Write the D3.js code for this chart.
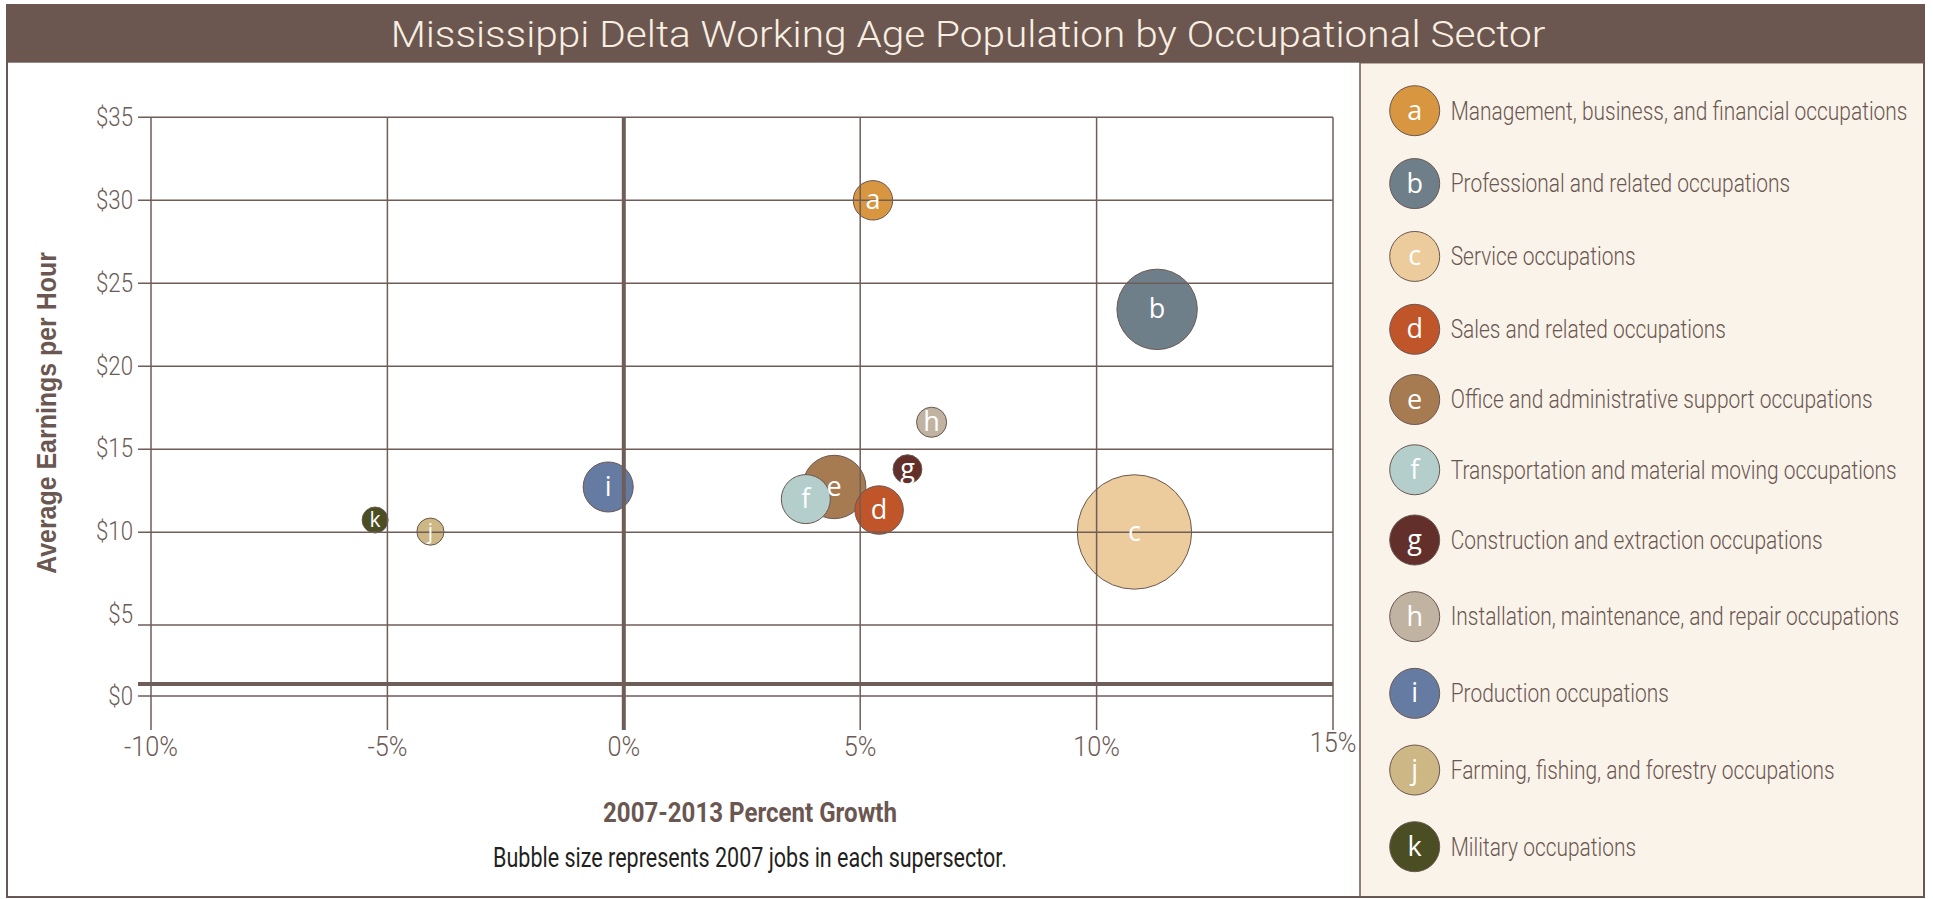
<!doctype html>
<html lang="en">
<head>
	<meta charset="utf-8">
	<title>Mississippi Delta Working Age Population by Occupational Sector</title>
	<style>
html, body {
	margin: 0;
	padding: 0;
	background: #fff;
	overflow: hidden;
}
svg {
	display: block;
}
.cond {
	font-family: Roboto, 'Liberation Sans', sans-serif;
	font-weight: 300;
}
	</style>
</head>
<body>
	<div id="chart"></div>

	<script src="https://cdnjs.cloudflare.com/ajax/libs/d3/7.8.5/d3.min.js"></script>
	<script>
/* DATA (jobs) */

var letters = ['a', 'b', 'c', 'd', 'e', 'f', 'g', 'h', 'i', 'j', 'k'];

var occupations = [
	'Management, business, and financial occupations',
	'Professional and related occupations',
	'Service occupations',
	'Sales and related occupations',
	'Office and administrative support occupations',
	'Transportation and material moving occupations',
	'Construction and extraction occupations',
	'Installation, maintenance, and repair occupations',
	'Production occupations',
	'Farming, fishing, and forestry occupations',
	'Military occupations'
];

// 2007-2013 percent growth
var growth = [5.27, 11.28, 10.80, 5.40, 4.45, 3.85, 6.00, 6.51, -0.33, -4.09, -5.26];

// average earnings per hour ($)
var earnings = [30.0, 23.43, 10.02, 11.34, 12.73, 12.0, 13.8, 16.63, 12.73, 10.04, 10.74];

// 2007 jobs (bubble size)
var jobs2007 = [10800, 44900, 90900, 16300, 27900, 16700, 5800, 6300, 17400, 5100, 4700];

var colors = ['#d7963f', '#6e7f89', '#eccb9c', '#c0552a', '#a67b52', '#b3cecb',
	'#622f2b', '#c1b3a2', '#657ba1', '#cdb784', '#4b4d23'];

var xTicks = [-10, -5, 0, 5, 10, 15];
var yTicks = [0, 5, 10, 15, 20, 25, 30, 35];

(function (d3) {

	'use strict';

	/* CONST */

	var W = 1933, H = 899;
	var BROWN = '#6b5751';
	var FRAME = { x: 7, y: 5, w: 1917, h: 892 };
	var TITLE_H = 57.7;
	var LEGEND_X = 1360;
	var GRID_LEFT = 138;
	var GRID_BOTTOM = 730;
	var BASELINE_VALUE = 0.85; // the heavy horizontal rule sits a bit above $0

	var svg = d3.select('#chart').append('svg')
		.attr('width', W)
		.attr('height', H);

	/* SCALES */

	var x = d3.scaleLinear().domain([-10, 15]).range([151, 1333]);
	// the gridlines are not evenly spaced below $10 in the original
	var y = d3.scaleLinear().domain([0, 5, 10, 35]).range([696, 625, 532.3, 117.3]);
	// ... while the labels are
	var yLabel = d3.scaleLinear().domain([0, 35]).range([696, 117]);
	var r = d3.scaleSqrt().domain([0, 100000]).range([0, 60]);
	// legend rows are hand spaced, a bit uneven
	var legendY = d3.scaleLinear().domain([0, 3, 6, 10]).range([110.7, 329.3, 540, 846.7]);

	var data = letters.map(function (l, i) {
		return {
			index: i,
			letter: l,
			name: occupations[i],
			growth: growth[i],
			earnings: earnings[i],
			jobs: jobs2007[i],
			color: colors[i]
		};
	});

	/* UTILS */

	// no condensed face is installed, so squeeze a normal one horizontally
	var squeeze = function (text, target) {
		return target / text.node().getComputedTextLength();
	};
	var place = function (sel, px, py, s) {
		sel.attr('transform', function (d, i) {
			var X = typeof px === 'function' ? px(d, i) : px;
			var Y = typeof py === 'function' ? py(d, i) : py;
			return 'translate(' + X + ',' + Y + ') scale(' + s + ',1)';
		});
	};

	/* FRAME + TITLE */

	svg.append('rect')
		.attr('x', LEGEND_X).attr('y', FRAME.y + TITLE_H)
		.attr('width', FRAME.x + FRAME.w - LEGEND_X)
		.attr('height', FRAME.h - TITLE_H)
		.attr('fill', '#faf3ea')
		.attr('stroke', BROWN)
		.attr('stroke-width', 1.5);

	svg.append('rect')
		.attr('x', FRAME.x).attr('y', FRAME.y)
		.attr('width', FRAME.w).attr('height', FRAME.h)
		.attr('fill', 'none')
		.attr('stroke', BROWN)
		.attr('stroke-width', 2);

	svg.append('rect')
		.attr('x', FRAME.x).attr('y', FRAME.y)
		.attr('width', FRAME.w).attr('height', TITLE_H)
		.attr('fill', '#6b5750');

	var title = svg.append('text')
		.attr('class', 'cond')
		.attr('text-anchor', 'middle')
		.attr('fill', '#f8efe2')
		.style('font-size', '37px')
		.text('Mississippi Delta Working Age Population by Occupational Sector');
	place(title, 968, 46.7, squeeze(title, 1155));

	/* BUBBLES (under the grid, as in the original) */

	var sorted = data.slice().sort(function (a, b) { return b.jobs - a.jobs; });

	svg.append('g').selectAll('circle')
		.data(sorted).enter()
		.append('circle')
		.attr('cx', function (d) { return x(d.growth); })
		.attr('cy', function (d) { return y(d.earnings); })
		.attr('r', function (d) { return r(d.jobs); })
		.attr('fill', function (d) { return d.color; })
		.attr('stroke', BROWN)
		.attr('stroke-width', 1);

	/* GRID */

	var grid = svg.append('g')
		.attr('stroke', '#6f5d58')
		.attr('stroke-width', 1.5);

	grid.selectAll('line.h')
		.data(yTicks).enter()
		.append('line')
		.attr('x1', GRID_LEFT).attr('x2', x(15))
		.attr('y1', function (d) { return y(d); })
		.attr('y2', function (d) { return y(d); });

	grid.selectAll('line.v')
		.data(xTicks).enter()
		.append('line')
		.attr('y1', y(35)).attr('y2', GRID_BOTTOM)
		.attr('x1', function (d) { return x(d); })
		.attr('x2', function (d) { return x(d); })
		.attr('stroke-width', function (d) { return d === 0 ? 4 : 1.5; });

	grid.append('line')
		.attr('x1', GRID_LEFT).attr('x2', x(15))
		.attr('y1', y(BASELINE_VALUE)).attr('y2', y(BASELINE_VALUE))
		.attr('stroke-width', 4);

	/* BUBBLE LETTERS */

	var letterSize = function (d) { return r(d.jobs) < 14 ? 21 : 27; };

	svg.append('g').selectAll('text')
		.data(sorted).enter()
		.append('text')
		.attr('x', function (d) { return x(d.growth); })
		.attr('y', function (d) { return y(d.earnings) + letterSize(d) * 0.33; })
		.attr('text-anchor', 'middle')
		.attr('fill', '#fff')
		.style('font-family', "'Open Sans', sans-serif")
		.style('font-size', function (d) { return letterSize(d) + 'px'; })
		.text(function (d) { return d.letter; });

	/* AXES */

	var yLabels = svg.append('g').selectAll('text')
		.data(yTicks).enter()
		.append('text')
		.attr('class', 'cond')
		.attr('fill', '#6b5a55')
		.attr('dy', '0.36em')
		.attr('text-anchor', 'end')
		.style('font-size', '26px')
		.text(function (d) { return '$' + d; });
	place(yLabels, 133, function (d) { return yLabel(d); }, squeeze(d3.select(yLabels.nodes()[7]), 37));

	var xLabels = svg.append('g').selectAll('text')
		.data(xTicks).enter()
		.append('text')
		.attr('class', 'cond')
		.attr('fill', '#6b5a55')
		.attr('text-anchor', 'middle')
		.style('font-size', '27px')
		.text(function (d) { return d + '%'; });
	place(xLabels, function (d) { return x(d); }, function (d) { return d === 15 ? 752 : 756; },
		squeeze(d3.select(xLabels.nodes()[0]), 54));

	var xTitle = svg.append('text')
		.attr('text-anchor', 'middle')
		.attr('fill', BROWN)
		.style('font-family', "Roboto, 'Liberation Sans', sans-serif")
		.style('font-weight', 'bold')
		.style('font-size', '28px')
		.text('2007-2013 Percent Growth');
	place(xTitle, 750, 821.7, squeeze(xTitle, 294));

	var note = svg.append('text')
		.attr('text-anchor', 'middle')
		.attr('fill', '#231f20')
		.style('font-family', "Roboto, 'Liberation Sans', sans-serif")
		.style('font-size', '27px')
		.text('Bubble size represents 2007 jobs in each supersector.');
	place(note, 750, 866.7, squeeze(note, 514));

	var yTitle = svg.append('text')
		.attr('text-anchor', 'middle')
		.attr('fill', BROWN)
		.style('font-family', "'Liberation Sans', Arial, sans-serif")
		.style('font-weight', 'bold')
		.style('font-size', '27px')
		.text('Average Earnings per Hour');
	yTitle.attr('transform', 'translate(56,413) rotate(-90) scale(' + squeeze(yTitle, 322) + ',1)');

	/* LEGEND */

	var legend = svg.append('g').selectAll('g')
		.data(data).enter()
		.append('g')
		.attr('transform', function (d) { return 'translate(1414.7,' + legendY(d.index) + ')'; });

	legend.append('circle')
		.attr('r', 25)
		.attr('fill', function (d) { return d.color; })
		.attr('stroke', BROWN)
		.attr('stroke-width', 1);

	legend.append('text')
		.attr('y', 9)
		.attr('text-anchor', 'middle')
		.attr('fill', '#fff')
		.style('font-family', "'Open Sans', sans-serif")
		.style('font-size', '27px')
		.text(function (d) { return d.letter; });

	var labels = legend.append('text')
		.attr('class', 'cond')
		.attr('fill', BROWN)
		.style('font-size', '26px')
		.text(function (d) { return d.name; });

	// squeeze all labels by the amount the longest one (the first) needs
	place(labels, 36, 8.8, squeeze(d3.select(labels.node()), 457));

})(window.d3);
	</script>
</body>
</html>
